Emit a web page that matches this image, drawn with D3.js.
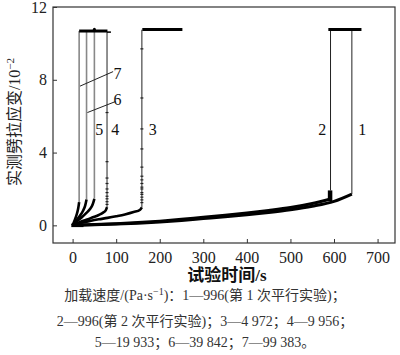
<!DOCTYPE html>
<html>
<head>
<meta charset="utf-8">
<script src="https://cdn.jsdelivr.net/npm/d3@7"></script>
<style>
  body { margin: 0; background: #fff; }
  svg { display: block; }
</style>
</head>
<body>
<div id="chart"></div>
<script>
'use strict';

// loading-rate curves: [time s, strain 10^-2]
var curve1 = [[0,0],[50,0.03],[100,0.07],[150,0.12],[200,0.19],[250,0.27],[300,0.37],[350,0.47],[400,0.58],[450,0.71],[500,0.86],[550,1.05],[600,1.32],[641,1.72]];
var curve2 = [[0,0],[50,0.04],[100,0.09],[150,0.15],[200,0.23],[250,0.33],[300,0.45],[350,0.56],[400,0.68],[450,0.82],[500,0.98],[550,1.2],[592,1.45]];
var curve3 = [[0,0],[20,0.14],[40,0.24],[60,0.33],[80,0.41],[100,0.5],[120,0.6],[140,0.73],[155,0.86],[159,0.99]];
var curve4 = [[0,0],[10,0.12],[20,0.22],[30,0.3],[40,0.38],[50,0.47],[60,0.57],[70,0.7],[76,0.82],[79,1.0]];
var curve5 = [[0,0],[10,0.22],[20,0.42],[30,0.64],[40,0.9],[46,1.15],[50,1.46]];
var curve6 = [[0,0],[8,0.25],[16,0.5],[24,0.8],[29,1.1],[32,1.42]];
var curve7 = [[0,0],[5,0.3],[10,0.65],[13,0.95],[15,1.28]];

// vertical jumps after failure: time, strain from, strain to
var jumpTimes = [641, 592, 159, 79, 50, 32, 15];
var jumpFrom  = [1.72, 1.92, 0.99, 1.0, 1.46, 1.42, 1.28];
var jumpTo    = [10.75, 10.75, 10.75, 10.62, 10.68, 10.68, 10.68];

// flat plateaus at the top: [t0, t1, strain]
var plateaus = [[587, 663, 10.77], [160, 252, 10.77], [15, 80, 10.68]];

// sparse markers on jump lines 3 and 4
var marks3 = [9.7, 7.0, 5.3, 4.2, 3.2, 2.7, 2.5, 2.3, 2.1, 2.0, 1.8, 1.7, 1.55, 1.4, 1.25];
var marks4 = [6.2, 3.5, 2.6, 2.3, 2.0, 1.8, 1.6, 1.46, 1.3, 1.15];

var xTicks = [0, 100, 200, 300, 400, 500, 600, 700];
var yTicks = [0, 4, 8, 12];

var curveLabels = [
    {text: "1", t: 665, v: 5.3},
    {text: "2", t: 573, v: 5.3},
    {text: "3", t: 184, v: 5.3},
    {text: "4", t: 98, v: 5.3},
    {text: "5", t: 61, v: 5.3},
    {text: "6", t: 103, v: 6.9},
    {text: "7", t: 103, v: 8.35}
];
var leaders = [
    [[17, 7.65], [93, 8.45]],
    [[34, 6.2], [98, 6.8]]
];

var captionLines = [
    ["加载速度/(Pa·s", "−1", ")：1—996(第 1 次平行实验)；"],
    ["2—996(第 2 次平行实验)；3—4 972；4—9 956；"],
    ["5—19 933；6—39 842；7—99 383。"]
];

var W = 400, H = 355;
var margin = {left: 53, top: 7, right: 5, bottom: 112};
var width = W - margin.left - margin.right,
    height = H - margin.top - margin.bottom;

var svg = d3.select("#chart").append("svg")
    .attr("width", W).attr("height", H);

var g = svg.append("g")
    .attr("transform", "translate(" + margin.left + "," + margin.top + ")");

var x = d3.scaleLinear().domain([-45, 740]).range([0, width]);
var y = d3.scaleLinear().domain([-0.97, 12]).range([height, 0]);

var serif = "'Liberation Serif', 'Times New Roman', 'Noto Sans CJK SC', serif";

// frame
g.append("rect")
    .attr("width", width).attr("height", height)
    .attr("fill", "none").attr("stroke", "#333").attr("stroke-width", 1.2);

// axes with inner ticks
var xAxis = d3.axisBottom(x).tickValues(xTicks).tickSize(-4).tickPadding(9);
var yAxis = d3.axisLeft(y).tickValues(yTicks).tickSize(-4).tickPadding(6);

var gx = g.append("g").attr("transform", "translate(0," + height + ")").call(xAxis);
var gy = g.append("g").call(yAxis);
[gx, gy].forEach(function(a) {
    a.select(".domain").remove();
    a.selectAll("line").attr("stroke", "#333");
    a.selectAll("text")
        .attr("font-family", serif)
        .attr("font-size", 16)
        .attr("fill", "#222");
});
gy.selectAll("text").attr("x", -6);

var line = d3.line()
    .x(function(d) { return x(d[0]); })
    .y(function(d) { return y(d[1]); })
    .curve(d3.curveMonotoneX);

// vertical jumps
jumpTimes.forEach(function(t, i) {
    g.append("line")
        .attr("x1", x(t)).attr("x2", x(t))
        .attr("y1", y(jumpFrom[i])).attr("y2", y(jumpTo[i]))
        .attr("stroke", i >= 4 ? "#888" : "#222")
        .attr("stroke-width", i >= 4 ? 1.6 : 1);
});

// markers on jumps 3 and 4
function drawMarks(vals, t) {
    g.selectAll(null).data(vals).enter().append("line")
        .attr("x1", x(t) - 1.5).attr("x2", x(t) + 1.5)
        .attr("y1", function(d) { return y(d); })
        .attr("y2", function(d) { return y(d); })
        .attr("stroke", "#222").attr("stroke-width", 1.2);
}
drawMarks(marks3, jumpTimes[2]);
drawMarks(marks4, jumpTimes[3]);

// plateaus
plateaus.forEach(function(p) {
    g.append("line")
        .attr("x1", x(p[0])).attr("x2", x(p[1]))
        .attr("y1", y(p[2])).attr("y2", y(p[2]))
        .attr("stroke", "#000").attr("stroke-width", 3);
});
g.append("circle").attr("cx", x(50)).attr("cy", y(10.78)).attr("r", 1.5).attr("fill", "#000");
g.append("line")
    .attr("x1", x(79)).attr("x2", x(88))
    .attr("y1", y(10.62)).attr("y2", y(10.62))
    .attr("stroke", "#000").attr("stroke-width", 1.5);

// strain curves
[curve1, curve2, curve3, curve4, curve5, curve6, curve7].forEach(function(c, i) {
    g.append("path")
        .attr("d", line(c))
        .attr("fill", "none")
        .attr("stroke", "#000")
        .attr("stroke-width", i < 2 ? 3 : 2.6);
});

// blob at the end of curve 2
g.append("line")
    .attr("x1", x(591)).attr("x2", x(591))
    .attr("y1", y(1.33)).attr("y2", y(1.92))
    .attr("stroke", "#000").attr("stroke-width", 4.5);

// start cluster
g.append("line")
    .attr("x1", x(-3)).attr("x2", x(25))
    .attr("y1", y(0)).attr("y2", y(0))
    .attr("stroke", "#000").attr("stroke-width", 3.5);

// leader lines and labels
leaders.forEach(function(l) {
    g.append("line")
        .attr("x1", x(l[0][0])).attr("y1", y(l[0][1]))
        .attr("x2", x(l[1][0])).attr("y2", y(l[1][1]))
        .attr("stroke", "#222").attr("stroke-width", 1);
});
g.selectAll(null).data(curveLabels).enter().append("text")
    .attr("x", function(d) { return x(d.t); })
    .attr("y", function(d) { return y(d.v); })
    .attr("text-anchor", "middle")
    .attr("dy", "0.35em")
    .attr("font-family", serif)
    .attr("font-size", 16)
    .attr("fill", "#111")
    .text(function(d) { return d.text; });

// axis titles
var yl = svg.append("text")
    .attr("transform", "translate(20," + 122 + ") rotate(-90)")
    .attr("text-anchor", "middle")
    .attr("font-family", serif)
    .attr("font-size", 16)
    .attr("fill", "#222");
yl.append("tspan").text("实测劈拉应变/10");
yl.append("tspan").attr("dy", -6).attr("font-size", 11).text("−2");

svg.append("text")
    .attr("x", 227).attr("y", 281)
    .attr("text-anchor", "middle")
    .attr("font-family", serif)
    .attr("font-size", 17)
    .attr("font-weight", "bold")
    .attr("fill", "#111")
    .text("试验时间/s");

// caption
var capY = [300, 326, 347];
captionLines.forEach(function(parts, i) {
    var t = svg.append("text")
        .attr("x", 205).attr("y", capY[i])
        .attr("text-anchor", "middle")
        .attr("font-family", serif)
        .attr("font-size", 14)
        .attr("fill", "#333");
    t.append("tspan").text(parts[0]);
    if (parts.length > 1) {
        t.append("tspan").attr("dy", -5).attr("font-size", 10).text(parts[1]);
        t.append("tspan").attr("dy", 5).text(parts[2]);
    }
});
</script>
</body>
</html>
